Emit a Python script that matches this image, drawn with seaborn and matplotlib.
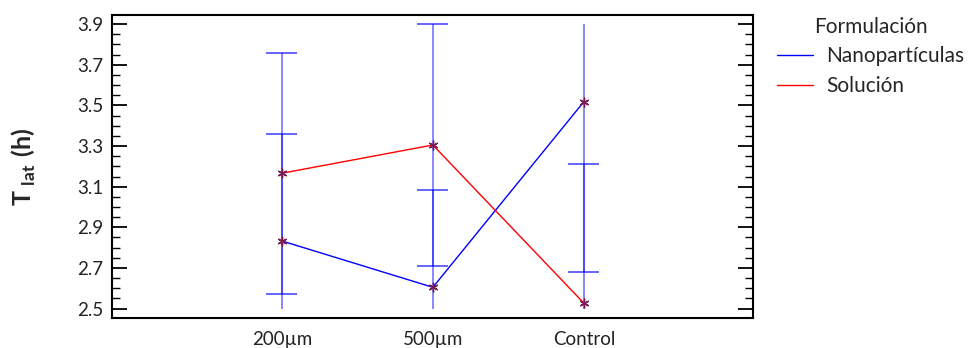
import matplotlib
matplotlib.use("Agg")
import matplotlib.pyplot as plt
from matplotlib.lines import Line2D
from matplotlib.ticker import MultipleLocator
import numpy as np
import pandas as pd
import seaborn as sns

# Data: mean latency time and interval half-widths per group
categories = ["200µm", "500µm", "Control"]
formulations = ["Nanopartículas", "Solución"]
nano_mean = [2.833, 2.605, 3.518]
sol_mean = [3.166, 3.305, 2.527]
nano_half = [0.525, 0.479, 0.840]
sol_half = [0.593, 0.593, 0.683]
y_ticks = [2.5, 2.7, 2.9, 3.1, 3.3, 3.5, 3.7, 3.9]

sns.set_theme(style="white")
plt.rcParams["font.family"] = ["Lato", "DejaVu Sans"]
plt.rcParams["mathtext.fontset"] = "custom"
plt.rcParams["mathtext.bf"] = "Lato:bold"
plt.rcParams["mathtext.rm"] = "Lato"

df = pd.DataFrame({
    "pos": list(range(len(categories))) * 2,
    "Tlat": nano_mean + sol_mean,
    "Formulación": [formulations[0]] * 3 + [formulations[1]] * 3,
})

line_colors = {"Nanopartículas": "#0000ff", "Solución": "#ff0000"}

fig = plt.figure(figsize=(9.71, 3.48), dpi=100)
ax = fig.add_axes([0.1153, 0.0862, 0.7755 - 0.1153, 0.9578 - 0.0862])

sns.lineplot(data=df, x="pos", y="Tlat", hue="Formulación", palette=line_colors,
             linewidth=1.0, ax=ax, legend=False, zorder=2)

# Confidence intervals, clipped to the displayed range
lo_clip, hi_clip = 2.5, 3.9
cap = 0.103
for means, halves in ((nano_mean, nano_half), (sol_mean, sol_half)):
    for i, (m, h) in enumerate(zip(means, halves)):
        lo, hi = m - h, m + h
        ax.vlines(i, max(lo, lo_clip), min(hi, hi_clip), color="#0000ff",
                  alpha=0.5, linewidth=1.3, zorder=3)
        for end in (lo, hi):
            if lo_clip - 1e-6 <= end <= hi_clip + 1e-6:
                ax.hlines(end, i - cap, i + cap, color="#0000ff", alpha=0.65,
                          linewidth=1.3, zorder=3)

sns.scatterplot(data=df, x="pos", y="Tlat", color="#7a1a55", marker=(6, 2, 0),
                s=40, linewidth=1.0, ax=ax, zorder=4, legend=False)

ax.set_xlim(-1.125, 3.12)
ax.set_ylim(2.454, 3.946)
ax.set_xticks(range(len(categories)))
ax.set_xticklabels(categories, fontsize=13.5)
ax.set_yticks(y_ticks)
ax.set_yticklabels([f"{t:.1f}" for t in y_ticks], fontsize=13.5)
ax.yaxis.set_minor_locator(MultipleLocator(0.05))
ax.tick_params(axis="x", length=0, pad=9)
ax.tick_params(axis="y", which="major", direction="in", length=11, width=1.3,
               left=True, right=True, colors="black", pad=6)
ax.tick_params(axis="y", which="minor", direction="in", length=6, width=1.0,
               left=True, right=True, colors="black")
ax.tick_params(axis="y", labelcolor="#222222")
ax.tick_params(axis="x", labelcolor="#222222")
for s in ax.spines.values():
    s.set_color("black")
    s.set_linewidth(1.5)

ax.set_xlabel("")
ax.set_ylabel(r"$\mathbf{T}_{\mathbf{\ lat}}\ \mathbf{(h)}$", fontsize=18, labelpad=28)

handles = [Line2D([], [], color=line_colors[f], linewidth=1.0) for f in formulations]
leg = fig.legend(handles, formulations, title="Formulación", frameon=False,
                 loc="upper left", bbox_to_anchor=(0.800, 0.952), borderpad=0,
                 borderaxespad=0, fontsize=15, title_fontsize=15,
                 handlelength=1.73, handletextpad=0.63, labelspacing=0.47)

fig.savefig("out.png", dpi=100)
